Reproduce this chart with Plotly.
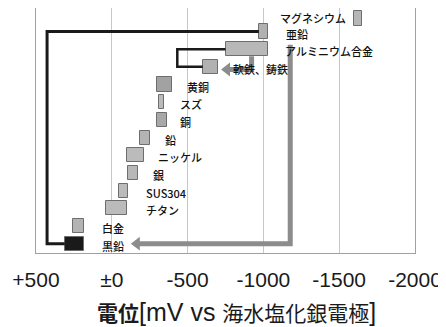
import plotly.graph_objects as go

# ---- data ----
metals = ["マグネシウム", "亜鉛", "アルミニウム合金", "軟鉄、鋳鉄", "黄銅", "スズ", "銅",
          "鉛", "ニッケル", "銀", "SUS304", "チタン", "白金", "黒鉛"]
pot_noble = [-1600, -970, -750, -600, -300, -310, -295, -185, -100, -110, -45, 40, 255, 310]
pot_active = [-1650, -1030, -1030, -700, -400, -345, -365, -250, -215, -175, -110, -100, 185, 185]
rows = [0.26, 1, 2, 3, 4, 5, 6, 7, 8, 9, 10, 11, 12, 13]
bar_fg = ["#a4a4a4", "#9c9c9c", "#a4a4a4", "#9c9c9c", "#8c8c8c", "#b0b0b0", "#949494",
          "#a8a8a8", "#b0b0b0", "#a8a8a8", "#b0b0b0", "#b0b0b0", "#a4a4a4", "#141414"]
bar_bg = ["#d6d6d6", "#d0d0d0", "#d8d8d8", "#d0d0d0", "#bcbcbc", "#dcdcdc", "#c4c4c4",
          "#d4d4d4", "#dcdcdc", "#d8d8d8", "#dcdcdc", "#dcdcdc", "#d4d4d4", "#1a1a1a"]
bar_pattern = [".", ".", ".", ".", ".", ".", ".", ".", ".", ".", ".", ".", ".", ""]
label_x = [-1550, -1140, -1134, -790, -492, -446, -446, -347, -300, -267, -221, -221, 70, 70]
tick_vals = [500, 0, -500, -1000, -1500, -2000]
tick_text = ["+500", "±0", "-500", "-1000", "-1500", "-2000"]

bw = 0.8
fig = go.Figure()

fig.add_trace(go.Bar(
    orientation="h", y=rows, base=pot_noble,
    x=[a - n for n, a in zip(pot_noble, pot_active)],
    width=bw,
    marker=dict(color=bar_bg, line=dict(color="#6e6e6e", width=1),
                pattern=dict(shape=bar_pattern, fgcolor=bar_fg, bgcolor=bar_bg, size=2, solidity=0.5)),
    showlegend=False, hoverinfo="skip"))

# black connection brackets
fig.add_trace(go.Scatter(
    x=[pot_noble[13], 427, 427, pot_noble[1]],
    y=[rows[13], rows[13], rows[1], rows[1]],
    mode="lines", line=dict(color="#1a1a1a", width=3), showlegend=False, hoverinfo="skip"))
fig.add_trace(go.Scatter(
    x=[pot_noble[2], -432, -432, pot_noble[3]],
    y=[rows[2], rows[2], rows[3], rows[3]],
    mode="lines", line=dict(color="#1a1a1a", width=2.5), showlegend=False, hoverinfo="skip"))

# gray arrows
gray = "#8c8c8c"
fig.add_trace(go.Scatter(
    x=[-922, -922, -760],
    y=[rows[2] + bw / 2, rows[3] + 0.15, rows[3] + 0.15],
    mode="lines", line=dict(color=gray, width=5), showlegend=False, hoverinfo="skip"))
fig.add_trace(go.Scatter(
    x=[-1177, -1177, -165],
    y=[rows[2] - 0.25, rows[13], rows[13]],
    mode="lines", line=dict(color=gray, width=5), showlegend=False, hoverinfo="skip"))
fig.add_trace(go.Scatter(
    x=[-760, -165], y=[rows[3] + 0.15, rows[13]],
    mode="markers", marker=dict(symbol="triangle-left", size=12, color=gray, line=dict(width=0)),
    showlegend=False, hoverinfo="skip"))

for name, lx, r in zip(metals, label_x, rows):
    first = name == metals[0]
    fig.add_annotation(x=lx, y=r, text=name, showarrow=False,
                       xanchor="right" if first else "left",
                       yshift=0 if first else -2, borderpad=0,
                       font=dict(family="Noto Sans CJK JP", size=11, color="#111111", weight=500))

latin = "font-family:Liberation Sans;font-size:25px"
fig.add_annotation(
    xref="paper", yref="paper", x=0.53, y=-0.241, xanchor="center", yanchor="middle",
    showarrow=False,
    text=("<b>電位</b><span style='%s'>[mV vs </span>海水塩化銀電極<span style='%s'>]</span>"
          % (latin, latin)),
    font=dict(family="Noto Sans CJK JP", size=21, color="#1a1a1a"))

# page body has an 8px margin, so the figure is sized/offset to compensate
fig.update_layout(
    width=438, height=319,
    margin=dict(l=28, r=31, t=0, b=74),
    paper_bgcolor="white", plot_bgcolor="white",
    bargap=0,
    xaxis=dict(range=[500, -2000], tickvals=tick_vals, ticktext=tick_text,
               showgrid=True, gridcolor="#c8c8c8", gridwidth=1, zeroline=False,
               showline=True, linecolor="#a0a0a0", linewidth=1, mirror=True,
               ticks="", ticklabelstandoff=8,
               tickfont=dict(family="Liberation Sans", size=21, color="#1a1a1a"),
               automargin=False),
    yaxis=dict(range=[13.53, -0.33], showgrid=False, zeroline=False, showticklabels=False,
               showline=True, linecolor="#a0a0a0", linewidth=1, mirror=True, ticks="",
               automargin=False),
)

fig.write_html("out.html")
